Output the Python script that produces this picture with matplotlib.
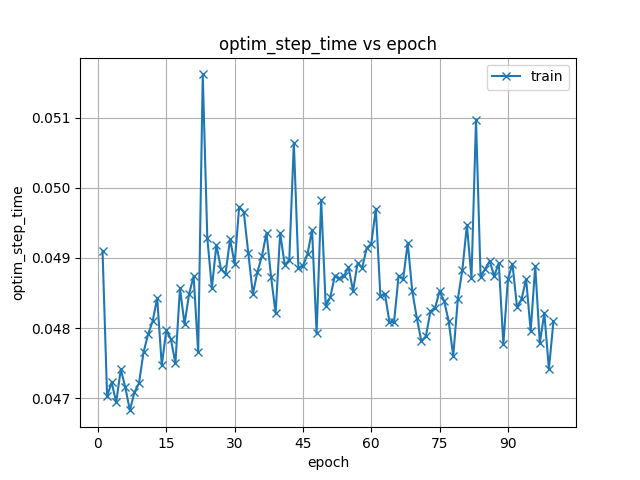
import matplotlib
matplotlib.use("Agg")
import matplotlib.pyplot as plt
from matplotlib.ticker import MultipleLocator
import numpy as np

epochs = list(range(1, 101))
ypix = [250, 395, 381, 401, 368, 386, 409, 391, 382, 351,
        333, 320, 297, 364, 329, 338, 362, 287, 323, 293,
        275, 351, 74, 237, 287, 244, 268, 273, 238, 263,
        206, 211, 252, 293, 271, 255, 232, 276, 312, 232,
        264, 259, 142, 267, 265, 253, 229, 332, 199, 305,
        296, 275, 277, 275, 266, 290, 262, 267, 247, 243,
        208, 295, 293, 321, 321, 275, 278, 242, 290, 317,
        340, 335, 310, 307, 290, 300, 320, 355, 298, 269,
        224, 277, 119, 276, 268, 260, 275, 262, 343, 278,
        263, 306, 298, 278, 330, 265, 342, 312, 368, 320]
optim_step_time = [round(0.047 + (397 - p) / 70000.0, 6) for p in ypix]

fig, ax = plt.subplots(figsize=(6.4, 4.8), dpi=100)
ax.plot(epochs, optim_step_time, marker="x", label="train")
ax.set_title("optim_step_time vs epoch")
ax.set_xlabel("epoch")
ax.set_ylabel("optim_step_time")
ax.xaxis.set_major_locator(MultipleLocator(15))
ax.grid(True)
ax.legend(loc="upper right")
fig.savefig("out.png")
